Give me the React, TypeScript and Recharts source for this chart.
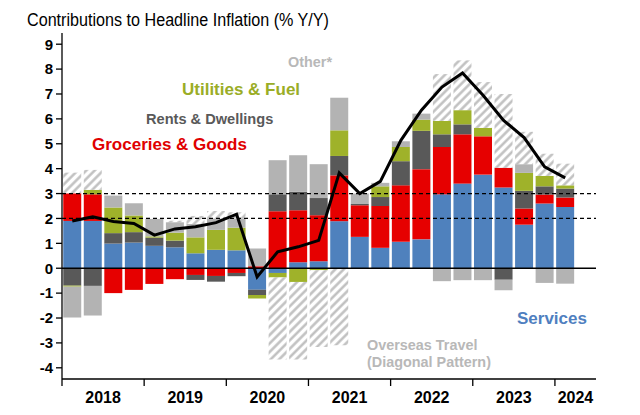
import React from 'react'
import { BarChart, Bar, Line, XAxis, YAxis, ReferenceLine } from 'recharts'

// quarterly, 2018Q1 .. 2024Q1 plus an empty 2024Q2 slot at the end of the axis
const quarters = [
  '2018Q1', '2018Q2', '2018Q3', '2018Q4',
  '2019Q1', '2019Q2', '2019Q3', '2019Q4',
  '2020Q1', '2020Q2', '2020Q3', '2020Q4',
  '2021Q1', '2021Q2', '2021Q3', '2021Q4',
  '2022Q1', '2022Q2', '2022Q3', '2022Q4',
  '2023Q1', '2023Q2', '2023Q3', '2023Q4',
  '2024Q1', '2024Q2',
]

const services = [1.9, 1.9, 0.99, 1.03, 0.9, 0.84, 0.6, 0.74, 0.72, -0.86, -0.19, 0.24, 0.28, 1.89, 1.26, 0.82, 1.06, 1.16, 2.97, 3.4, 3.76, 3.24, 1.75, 2.6, 2.46, null]
const groceries = [1.11, 1.07, -1.0, -0.87, -0.63, -0.44, -0.27, -0.31, -0.19, 0.08, 2.29, 2.09, 1.85, 1.84, 1.27, 1.68, 2.27, 2.82, 1.9, 1.98, 1.54, 0.8, 0.65, 0.36, 0.38, null]
const rents = [-0.7, -0.71, 0.42, 0.42, 0.33, 0.27, -0.2, -0.23, -0.13, -0.22, 0.68, 0.74, 0.69, 0.78, 0.05, 0.36, 0.97, 1.54, 0.51, 0.4, 0, -0.46, 0.71, 0.33, 0.36, null]
const utilities = [-0.04, 0.18, 1.03, 0.67, 0.05, 0.32, 0.64, 0.8, 0.91, -0.14, -0.18, -0.55, -0.08, 1.03, 0, 0.43, 0.57, 0.45, 0.54, 0.57, 0.34, 0, 0.72, 0.42, 0.13, null]
const other = [-1.24, -1.19, 0.48, 0.49, 0.7, 0.42, 0.54, 0.46, 0.37, 0.71, 1.37, 1.47, 1.36, 1.31, 0.42, 0.14, 0.23, 0.24, -0.52, -0.48, -0.48, -0.42, 0.35, -0.59, -0.62, null]
const overseas = [0.83, 0.8, 0, 0, 0, 0.06, 0.32, 0.3, 0.25, 0, -3.3, -3.12, -3.08, -3.09, 0, 0, 0, 0, 1.88, 2.0, 1.84, 2.96, 1.3, 0.89, 0.87, null]
const headline = [1.9, 2.07, 1.88, 1.8, 1.33, 1.58, 1.67, 1.83, 2.17, -0.35, 0.66, 0.86, 1.12, 3.83, 3.0, 3.49, 5.14, 6.35, 7.28, 7.84, 6.95, 5.94, 5.25, 4.07, 3.63, null]

const yTicks = [-4, -3, -2, -1, 0, 1, 2, 3, 4, 5, 6, 7, 8, 9]
const lastYear = '2024'

const data = quarters.map((q, i) => ({
  q,
  services: services[i],
  groceries: groceries[i],
  rents: rents[i],
  utilities: utilities[i],
  other: other[i],
  overseas: overseas[i],
  headline: headline[i],
}))

const FONT = '"Liberation Sans", Arial, sans-serif'
const W = 640
const H = 415
const MARGIN = { top: 33, right: 44, left: 12, bottom: 6 }
const Y_W = 50
// half of one quarter's band, to put year ticks on boundaries and labels mid-year
const HALF = (W - MARGIN.left - MARGIN.right - Y_W) / quarters.length / 2

function YearTick(props: any) {
  const { x, y, payload } = props
  const q = String(payload.value)
  const yr = q.slice(0, 4)
  const qn = q.slice(4)
  const showLabel = (qn === 'Q2' && yr !== lastYear) || (qn === 'Q1' && yr === lastYear)
  return (
    <g>
      {qn === 'Q1' && <line x1={x - HALF} x2={x - HALF} y1={y} y2={y + 7} stroke="#000" strokeWidth={1.3} />}
      {showLabel && (
        <text x={x + HALF} y={y + 24} textAnchor="middle" fontSize={16} fontWeight="bold" fill="#000" fontFamily={FONT}>
          {yr}
        </text>
      )}
    </g>
  )
}

export default function App() {
  return (
    <div style={{ position: 'absolute', left: 0, top: 0, width: W, height: H, background: '#fff', fontFamily: FONT }}>
      <svg width={0} height={0} style={{ position: 'absolute' }}>
        <defs>
          <pattern id="hatch" patternUnits="userSpaceOnUse" width={6} height={6} patternTransform="rotate(45)">
            <rect width={6} height={6} fill="#fff" />
            <line x1={1.5} y1={0} x2={1.5} y2={6} stroke="#bdbdbd" strokeWidth={2.4} />
          </pattern>
        </defs>
      </svg>

      <BarChart width={W} height={H} data={data} stackOffset="sign" barCategoryGap="6%" margin={MARGIN}>
        <XAxis
          dataKey="q"
          interval={0}
          tickLine={false}
          tickSize={0}
          tickMargin={0}
          height={30}
          axisLine={{ stroke: '#000', strokeWidth: 1.3 }}
          tick={<YearTick />}
        />
        <YAxis
          domain={[-4.45, 9.45]}
          allowDataOverflow
          ticks={yTicks}
          interval={0}
          width={Y_W}
          tickSize={6}
          tickMargin={3}
          axisLine={{ stroke: '#000', strokeWidth: 1.3 }}
          tickLine={{ stroke: '#000', strokeWidth: 1.3 }}
          tick={{ fill: '#000', fontSize: 15, fontWeight: 'bold', fontFamily: FONT }}
        />

        <Bar dataKey="services" stackId="a" fill="#4f81bd" isAnimationActive={false} />
        <Bar dataKey="groceries" stackId="a" fill="#e60000" isAnimationActive={false} />
        <Bar dataKey="rents" stackId="a" fill="#595959" isAnimationActive={false} />
        <Bar dataKey="utilities" stackId="a" fill="#9fb22a" isAnimationActive={false} />
        <Bar dataKey="other" stackId="a" fill="#b3b3b3" isAnimationActive={false} />
        <Bar dataKey="overseas" stackId="a" fill="url(#hatch)" isAnimationActive={false} />

        <ReferenceLine y={0} stroke="#000" strokeWidth={1.3} />
        <ReferenceLine y={2} stroke="#000" strokeWidth={1.2} strokeDasharray="4 3" />
        <ReferenceLine y={3} stroke="#000" strokeWidth={1.2} strokeDasharray="4 3" />

        <Line
          dataKey="headline"
          type="linear"
          stroke="#000"
          strokeWidth={3}
          dot={false}
          connectNulls={false}
          isAnimationActive={false}
        />
      </BarChart>

      <svg width={W} height={H} style={{ position: 'absolute', left: 0, top: 0, pointerEvents: 'none' }}>
        <text x={27} y={26} fontSize={17.5} fill="#000" fontFamily={FONT} textLength={302} lengthAdjust="spacingAndGlyphs">
          Contributions to Headline Inflation (% Y/Y)
        </text>
        <g fontFamily={FONT} fontWeight="bold">
          <text x={288} y={67} fontSize={14.4} fill="#b8b8b8">Other*</text>
          <text x={182} y={95} fontSize={17} fill="#9aad26">Utilities &amp; Fuel</text>
          <text x={146} y={124} fontSize={14.6} fill="#595959">Rents &amp; Dwellings</text>
          <text x={92} y={150} fontSize={17} fill="#e00000">Groceries &amp; Goods</text>
          <text x={517} y={324} fontSize={17} fill="#4f7fc0">Services</text>
          <text x={367} y={350} fontSize={14.4} fill="#b8b8b8">Overseas Travel</text>
          <text x={367} y={367} fontSize={14.4} fill="#b8b8b8">(Diagonal Pattern)</text>
        </g>
      </svg>
    </div>
  )
}
